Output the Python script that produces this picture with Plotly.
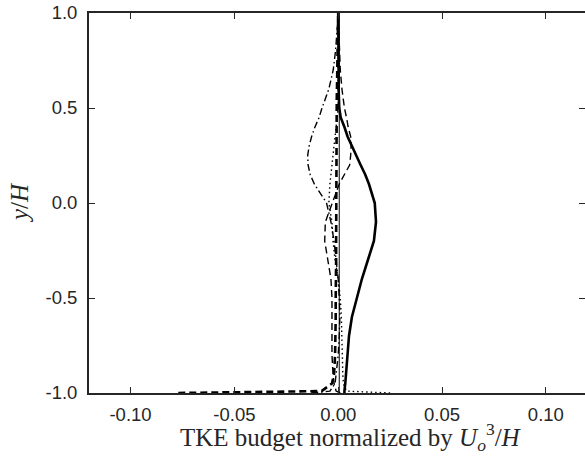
import plotly.graph_objects as go

# Wall-normal positions (y/H)
y_pos = [-1.0, -0.99, -0.95, -0.9, -0.8, -0.7, -0.6, -0.5, -0.4, -0.3, -0.2, -0.1,
         0.0, 0.1, 0.15, 0.2, 0.25, 0.3, 0.35, 0.4, 0.45, 0.5, 0.55, 0.6, 0.7, 0.8, 0.9, 1.0]

# TKE budget terms (normalized by U_o^3/H)
production = [0.003, 0.003, 0.0034, 0.0037, 0.0043, 0.0052, 0.0066, 0.009, 0.0114, 0.0143,
              0.0172, 0.0182, 0.0176, 0.0148, 0.013, 0.0108, 0.0088, 0.0065, 0.0045, 0.003,
              0.0012, 0.0005, 0.0003, 0.0002, 0.0002, 0.0001, 0.0, 0.0]
dissipation = [-0.077, -0.008, -0.003, -0.002, -0.0015, -0.0012, -0.0012, -0.0012, -0.001, -0.001,
               -0.001, -0.001, -0.001, -0.001, -0.001, -0.001, -0.001, -0.0009, -0.0009, -0.0008,
               -0.0008, -0.0008, -0.0007, -0.0006, -0.0005, -0.0004, -0.0002, 0.0]
pressure_transport = [0.001, -0.001, -0.002, -0.0025, -0.003, -0.003, -0.003, -0.003, -0.0035, -0.005,
                      -0.0065, -0.0062, -0.003, 0.0005, 0.003, 0.0055, 0.006, 0.0062, 0.006, 0.0048,
                      0.004, 0.003, 0.0024, 0.0018, 0.001, 0.0006, 0.0003, 0.0]
turbulent_transport = [-0.013, -0.004, -0.0015, -0.001, 0.0, 0.0005, 0.0008, 0.0005, 0.0, -0.001,
                       -0.002, -0.0035, -0.0056, -0.0115, -0.0135, -0.0145, -0.0147, -0.014, -0.0128, -0.0112,
                       -0.0092, -0.0078, -0.006, -0.0045, -0.0024, -0.0013, -0.0006, 0.0]
viscous_diffusion = [0.025, 0.004, 0.0025, 0.0022, 0.002, 0.0018, 0.0015, 0.001, 0.0, -0.0015,
                     -0.0025, -0.003, -0.0045, -0.004, -0.0035, -0.003, -0.0025, -0.002, -0.0015, -0.001,
                     -0.0005, 0.0, 0.0, 0.0, 0.0, 0.0, 0.0, 0.0]
residual = [0.0005] * len(y_pos)

x_ticks = [-0.10, -0.05, 0.0, 0.05, 0.10]
x_tick_labels = ["-0.10", "-0.05", "0.00", "0.05", "0.10"]
y_ticks = [-1.0, -0.5, 0.0, 0.5, 1.0]
y_tick_labels = ["-1.0", "-0.5", "0.0", "0.5", "1.0"]

series = [
    (residual, dict(color="black", width=1)),
    (viscous_diffusion, dict(color="black", width=1.4, dash="1.5px,3px")),
    (turbulent_transport, dict(color="black", width=1.4, dash="7px,3px,1.5px,3px")),
    (pressure_transport, dict(color="black", width=1.4, dash="7px,4px")),
    (dissipation, dict(color="black", width=2.6, dash="7px,4px")),
    (production, dict(color="black", width=2.6)),
]

fig = go.Figure()
for xs, ln in series:
    fig.add_trace(go.Scatter(x=xs, y=y_pos, mode="lines", line=ln, showlegend=False,
                             hoverinfo="skip"))
# invisible trace to carry the right-hand tick axis
fig.add_trace(go.Scatter(x=[0], y=[0], mode="markers", marker=dict(opacity=0),
                         yaxis="y2", showlegend=False, hoverinfo="skip"))

axis_col = "#262626"
tick_font = dict(family="Liberation Sans, Arial, sans-serif", size=18.5, color=axis_col)
title_font = dict(family="Liberation Serif, Times New Roman, serif", size=25, color=axis_col)

fig.update_layout(
    width=585, height=461,
    margin=dict(l=89, r=0, t=13, b=68),
    paper_bgcolor="white", plot_bgcolor="white",
    xaxis=dict(range=[-0.12, 0.11884], tickvals=x_ticks, ticktext=x_tick_labels,
               ticks="inside", ticklen=6, tickwidth=1.2, tickcolor=axis_col,
               showline=True, linecolor=axis_col, linewidth=1.8, mirror="ticks",
               showgrid=False, zeroline=False, tickfont=tick_font, ticklabelstandoff=4),
    yaxis=dict(range=[-1, 1], tickvals=y_ticks, ticktext=y_tick_labels,
               ticks="inside", ticklen=6, tickwidth=1.2, tickcolor=axis_col,
               showline=True, linecolor=axis_col, linewidth=1.8,
               showgrid=False, zeroline=False, tickfont=tick_font, ticklabelstandoff=6),
    yaxis2=dict(range=[-1, 1], overlaying="y", side="right", anchor="x",
                tickvals=y_ticks, ticks="inside", ticklen=6, tickwidth=1.2, tickcolor=axis_col,
                showticklabels=False, showline=False, showgrid=False, zeroline=False),
    annotations=[
        dict(text="TKE budget normalized by <i>U</i><sub><i>o</i></sub><sup>3</sup>/<i>H</i>",
             xref="paper", yref="paper", x=0.528, y=-0.117, xanchor="center", yanchor="middle",
             showarrow=False, font=title_font),
        dict(text="<i>y</i>/<i>H</i>", textangle=-90,
             xref="paper", yref="paper", x=-0.141, y=0.5, xanchor="center", yanchor="middle",
             showarrow=False, font=title_font),
    ],
)

fig.write_html("out.html")
